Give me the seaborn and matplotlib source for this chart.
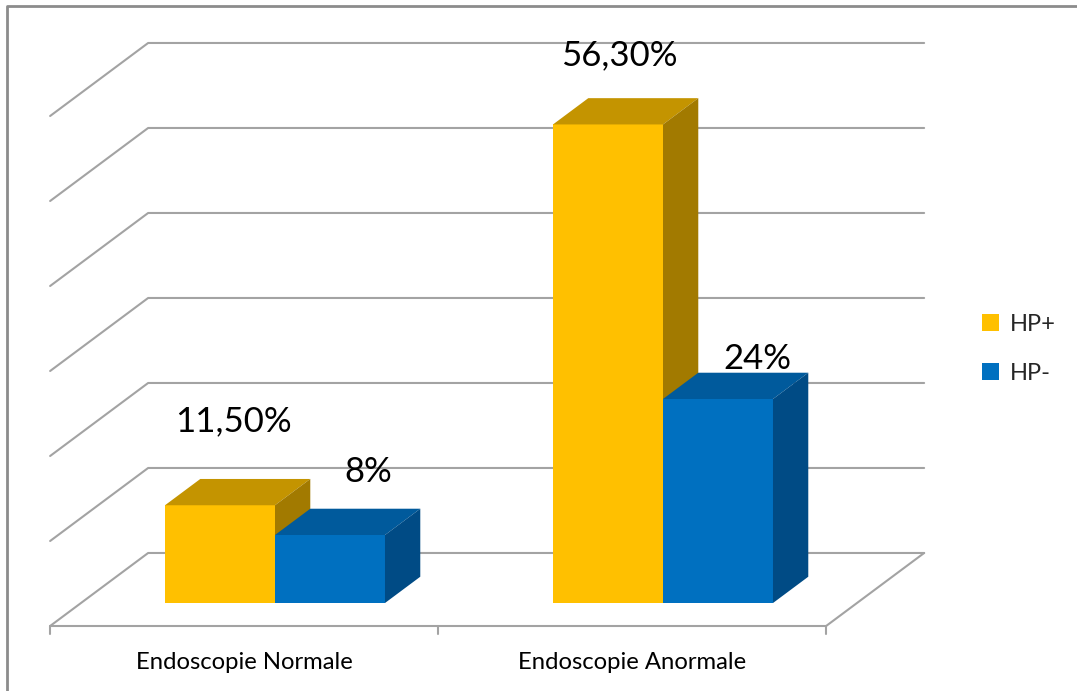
import matplotlib
matplotlib.use("Agg")
import matplotlib.pyplot as plt
from matplotlib.patches import Polygon
from matplotlib.lines import Line2D
import pandas as pd
import seaborn as sns

categories = ["Endoscopie Normale", "Endoscopie Anormale"]
groups = ["HP+", "HP-"]
hp_pos = [11.5, 56.3]
hp_neg = [8, 24]
pos_labels = ["11,50%", "56,30%"]
neg_labels = ["8%", "24%"]
grid_values = [0, 10, 20, 30, 40, 50, 60]

front_col = {"HP+": "#FFC000", "HP-": "#0070C0"}
top_col = {"HP+": "#C49400", "HP-": "#005A9C"}
side_col = {"HP+": "#A27A00", "HP-": "#004B85"}

# label nudges (pixels) from the back-top centre of each bar, excel puts them a bit everywhere
label_shift = {"HP+": [(-22, 58), (-24, 43)], "HP-": [(3, 37), (4, 14)]}

df = pd.DataFrame({
    "categorie": categories * 2,
    "groupe": [groups[0]] * 2 + [groups[1]] * 2,
    "valeur": hp_pos + hp_neg,
})
texts = {"HP+": pos_labels, "HP-": neg_labels}

# fake 3d: depth vector in data units (x per category, y per percent)
DX, DY = 0.2526, 8.59
D_FRONT, D_BACK = 0.315, 0.675


def proj(x, y, d):
    return x + (d - D_FRONT) * DX, y + (d - D_FRONT) * DY


sns.set_theme(style="white")
plt.rcParams["font.family"] = ["Lato", "DejaVu Sans"]

fig = plt.figure(figsize=(10.77, 6.91), dpi=100)
ax = fig.add_axes([81 / 1077, 88 / 691, 776 / 1077, 510 / 691])

sns.barplot(data=df, x="categorie", y="valeur", hue="groupe", order=categories,
            hue_order=groups, palette=front_col, width=0.567, saturation=1,
            linewidth=0, ax=ax, zorder=3)

ax.set_xlim(-0.5, 1.5)
ax.set_ylim(0, 60)
ax.axis("off")

# back wall, left wall and floor
grid_c = "#A3A3A3"
for v in grid_values:
    xa, ya = proj(-0.5, v, 0)
    xb, yb = proj(-0.5, v, 1)
    xc, yc = proj(1.5, v, 1)
    ax.plot([xa, xb, xc], [ya, yb, yc], color=grid_c, lw=1.5, clip_on=False, zorder=1)

floor = [proj(-0.5, 0, 0), proj(1.5, 0, 0), proj(1.5, 0, 1)]
ax.plot([p[0] for p in floor], [p[1] for p in floor], color=grid_c, lw=1.5,
        clip_on=False, zorder=1)
for x in [-0.5, 0.5, 1.5]:
    px, py = proj(x, 0, 0)
    ax.plot([px, px], [py, py - 0.9], color=grid_c, lw=1.5, clip_on=False, zorder=1)

for i, cat in enumerate(categories):
    px, py = proj(i, 0, 0)
    ax.text(px, py - 4.35, cat, ha="center", va="center", fontsize=17.2, color="black")

# extrude the bars
bars = []
for grp, cont in zip(groups, ax.containers):
    for j, bar in enumerate(cont):
        bars.append((bar.get_x(), grp, j, bar))
bars.sort(key=lambda b: b[0])

for rank, (x0, grp, j, bar) in enumerate(bars):
    z = 3 + rank
    x1 = x0 + bar.get_width()
    h = bar.get_height()
    bar.set_zorder(z)
    top = [proj(x0, h, D_FRONT), proj(x1, h, D_FRONT), proj(x1, h, D_BACK), proj(x0, h, D_BACK)]
    side = [proj(x1, 0, D_FRONT), proj(x1, h, D_FRONT), proj(x1, h, D_BACK), proj(x1, 0, D_BACK)]
    ax.add_patch(Polygon(top, closed=True, facecolor=top_col[grp], lw=0, clip_on=False, zorder=z))
    ax.add_patch(Polygon(side, closed=True, facecolor=side_col[grp], lw=0, clip_on=False, zorder=z))

    cx, cy = proj((x0 + x1) / 2, h, D_BACK)
    ax.annotate(texts[grp][j], xy=(cx, cy), xytext=label_shift[grp][j],
                textcoords="offset pixels", ha="center", va="center",
                fontsize=25, color="black", zorder=20, annotation_clip=False)

old = ax.get_legend()
handles = old.legend_handles
labels = [t.get_text() for t in old.get_texts()]
old.remove()
fig.legend(handles, labels, loc="center left", bbox_to_anchor=(982 / 1077, 1 - 349 / 691),
           frameon=False, fontsize=17, handlelength=0.72, handleheight=0.72,
           handletextpad=0.47, labelspacing=1.2, borderpad=0, borderaxespad=0)

# chart area border (only left and top are visible)
fig.add_artist(Line2D([7 / 1077, 7 / 1077, 1], [0, 1 - 6 / 691, 1 - 6 / 691],
                      transform=fig.transFigure, color="#8C8C8C", lw=2))

fig.savefig("out.png", dpi=100)
